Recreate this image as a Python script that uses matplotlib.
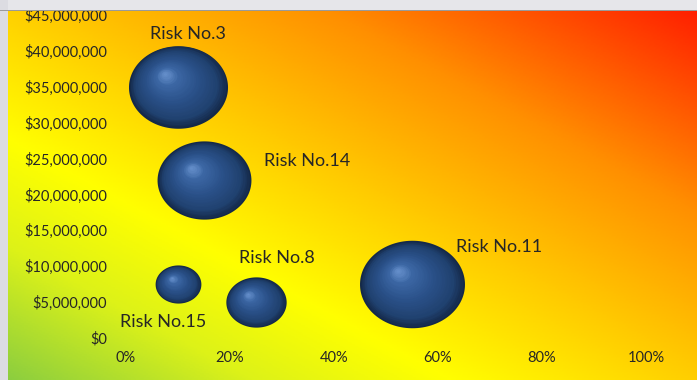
import numpy as np
import matplotlib
matplotlib.use("Agg")
import matplotlib.pyplot as plt
from matplotlib.colors import LinearSegmentedColormap
from matplotlib.path import Path
from matplotlib.transforms import offset_copy
from matplotlib.ticker import FuncFormatter, MultipleLocator
from matplotlib.patches import Rectangle

plt.rcParams['font.family'] = ['Lato', 'DejaVu Sans']

# bubble data
risks = ['Risk No.3', 'Risk No.14', 'Risk No.11', 'Risk No.8', 'Risk No.15']
likelihood = [0.10, 0.15, 0.55, 0.25, 0.10]
impact = [35e6, 22e6, 7.5e6, 5e6, 7.5e6]
bubble_size = [89, 80, 100, 33, 19]

# label offsets (points) from each bubble centre
label_off = [(7, 38), (74, 14), (63, 27), (15, 32), (-11, -27)]

W, H = 697, 380
fig = plt.figure(figsize=(W / 100, H / 100), dpi=100)

# diagonal background gradient: green bottom-left -> yellow -> red top-right
bg_cmap = LinearSegmentedColormap.from_list('bg', [
    (0.0, '#8ACD40'), (0.18, '#DDF218'), (0.32, '#FFFF00'),
    (0.5, '#FFCE00'), (0.72, '#FF9000'), (1.0, '#FF1A00')])
gx, gy = np.meshgrid(np.linspace(0, 1, 400), np.linspace(1, 0, 220))
bg = fig.add_axes([0, 0, 1, 1], zorder=-5)
bg.imshow((gx + gy) / 2, cmap=bg_cmap, vmin=0, vmax=1, extent=[0, 1, 0, 1], aspect='auto')
bg.axis('off')

ax = fig.add_axes([126 / W, 42 / H, 520 / W, 323 / H])
ax.patch.set_alpha(0)
ax.set_xlim(0, 1)
ax.set_ylim(0, 45e6)
for s in ax.spines.values():
    s.set_visible(False)
ax.xaxis.set_major_locator(MultipleLocator(0.2))
ax.yaxis.set_major_locator(MultipleLocator(5e6))
ax.xaxis.set_major_formatter(FuncFormatter(lambda v, p: f"{v * 100:.0f}%"))
ax.yaxis.set_major_formatter(FuncFormatter(lambda v, p: f"${v:,.0f}"))
ax.tick_params(axis='x', length=0, pad=9, labelsize=10.5, labelcolor='#262626')
ax.tick_params(axis='y', length=0, pad=13.5, labelsize=10.5, labelcolor='#262626')

# slightly wide ellipse marker (the original picture is stretched)
th = np.linspace(0, 2 * np.pi, 120)
ell = Path(np.column_stack([np.cos(th), np.sin(th) / 1.2]), closed=True)

sphere = LinearSegmentedColormap.from_list('sph', [
    (0.0, '#142949'), (0.2, '#20416F'), (0.55, '#2A5088'),
    (0.85, '#3B66A3'), (1.0, '#6690CC')])

scale = 5715 / 100
n_layers = 30
for x, y, b in zip(likelihood, impact, bubble_size):
    s = b * scale
    R = np.sqrt(s) / 2
    for k in range(n_layers):
        f = 1 - k / n_layers
        dx = -(1 - f) * 0.28 * R
        dy = (1 - f) * 0.32 * R / 1.2
        tr = offset_copy(ax.transData, fig=fig, x=dx, y=dy, units='points')
        ax.scatter([x], [y], s=s * f ** 2, marker=ell, color=sphere(1 - f ** 1.3),
                   linewidths=0, transform=tr, clip_on=False, zorder=2 + k * 0.01)

for name, x, y, off in zip(risks, likelihood, impact, label_off):
    ax.annotate(name, (x, y), xytext=off, textcoords='offset points',
                ha='center', va='center', fontsize=13, color='#262626',
                annotation_clip=False, zorder=5)

# window chrome strips at top and left
fig.add_artist(Rectangle((0, 1 - 10 / H), 1, 10 / H, transform=fig.transFigure,
                         facecolor='#E6E6EA', edgecolor='none', zorder=10))
fig.add_artist(Rectangle((0, 1 - 11 / H), 1, 1.2 / H, transform=fig.transFigure,
                         facecolor='#9A9A9A', edgecolor='none', zorder=11))
fig.add_artist(Rectangle((0, 0), 8 / W, 1, transform=fig.transFigure,
                         facecolor='#DCDCE2', edgecolor='none', zorder=10))

fig.savefig('out.png', dpi=100)
